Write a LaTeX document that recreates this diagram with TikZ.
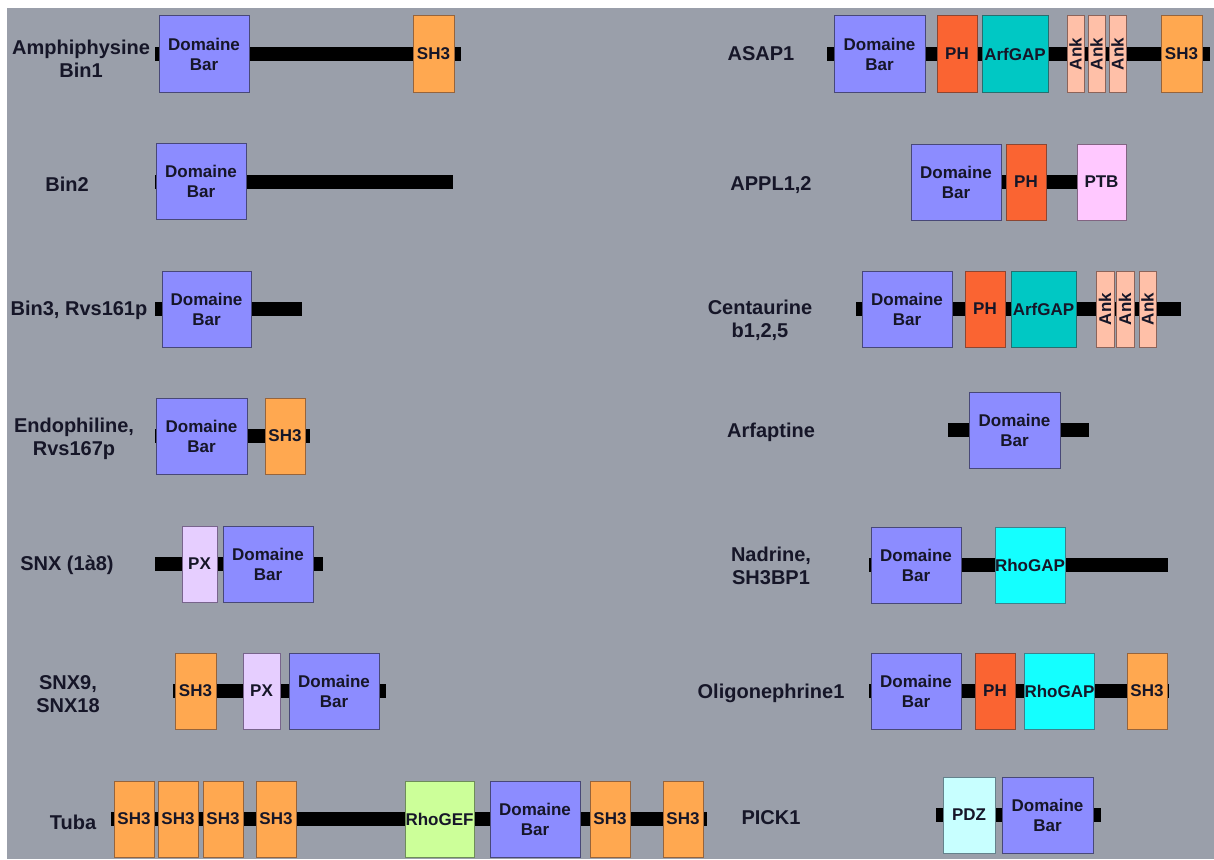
\documentclass[tikz,border=0pt]{standalone}
\usepackage{fontspec}
\setmainfont{Liberation Sans}
\usepackage{graphicx}
\definecolor{bgc}{RGB}{154,159,170}
\definecolor{txt}{RGB}{22,22,40}
\definecolor{dbF}{RGB}{140,140,255}\definecolor{dbD}{RGB}{72,72,120}
\definecolor{shF}{RGB}{255,168,80}\definecolor{shD}{RGB}{150,100,60}
\definecolor{phF}{RGB}{250,100,50}\definecolor{phD}{RGB}{140,70,50}
\definecolor{agF}{RGB}{0,200,196}\definecolor{agD}{RGB}{40,110,110}
\definecolor{akF}{RGB}{255,192,168}\definecolor{akD}{RGB}{140,100,90}
\definecolor{ptF}{RGB}{255,200,255}\definecolor{ptD}{RGB}{130,100,130}
\definecolor{pxF}{RGB}{230,206,255}\definecolor{pxD}{RGB}{120,100,140}
\definecolor{geF}{RGB}{204,255,153}\definecolor{geD}{RGB}{110,140,90}
\definecolor{gaF}{RGB}{20,255,255}\definecolor{gaD}{RGB}{60,130,140}
\definecolor{pdF}{RGB}{200,255,255}\definecolor{pdD}{RGB}{100,130,140}
\newcommand\boxfont{\fontsize{17}{20}\selectfont\bfseries}
\newcommand\labfont{\fontsize{20}{23}\selectfont\bfseries}
\newcommand\mkdom[6]{\node[dom,#5,minimum width={#3-#2}] (#1) at ({(#2+#3)/2},#4) {#6};}
\newcommand\ank{\rotatebox{90}{Ank}}
\tikzset{
  dom/.style={draw, line width=1pt, inner sep=0pt, minimum height=76, font=\boxfont, text=txt, align=center},
  dbar/.style={fill=dbF, draw=dbD},
  sh/.style={fill=shF, draw=shD},
  ph/.style={fill=phF, draw=phD},
  arf/.style={fill=agF, draw=agD},
  ankb/.style={fill=akF, draw=akD},
  ptb/.style={fill=ptF, draw=ptD},
  pxb/.style={fill=pxF, draw=pxD},
  gef/.style={fill=geF, draw=geD},
  gap/.style={fill=gaF, draw=gaD},
  pdz/.style={fill=pdF, draw=pdD},
  backbone/.style={line width=14pt, black},
  lab/.style={font=\labfont, text=txt, align=center, inner sep=0pt}
}
\begin{document}
\begin{tikzpicture}[x=1pt,y=-1pt]
\useasboundingbox (0,0) rectangle (1214,859);
\fill[bgc] (7,8) rectangle (1214,859);

% ---------------- left column ----------------
% Row 1
\node[lab] (L1) at (81,59) {Amphiphysine\\Bin1};
\coordinate (b1s) at (155,54); \coordinate (b1e) at (461,54);
\draw[backbone] (b1s) -- (b1e);
\mkdom{a1}{159}{249}{54}{dbar}{Domaine\\Bar}
\mkdom{a2}{413}{454}{54}{sh}{SH3}

% Row 2
\node[lab] (L2) at (67,184) {Bin2};
\coordinate (b2s) at (155,181.5); \coordinate (b2e) at (453,181.5);
\draw[backbone] (b2s) -- (b2e);
\mkdom{c1}{156}{246}{181.5}{dbar}{Domaine\\Bar}

% Row 3
\node[lab] (L3) at (79,310) {Bin3, Rvs161p};
\coordinate (b3s) at (155,309); \coordinate (b3e) at (302,309);
\draw[backbone] (b3s) -- (b3e);
\mkdom{d1}{162}{251}{309}{dbar}{Domaine\\Bar}

% Row 4
\node[lab] (L4) at (74,439) {Endophiline,\\Rvs167p};
\coordinate (b4s) at (155,436); \coordinate (b4e) at (310,436);
\draw[backbone] (b4s) -- (b4e);
\mkdom{e1}{156}{247}{436}{dbar}{Domaine\\Bar}
\mkdom{e2}{265}{305}{436}{sh}{SH3}

% Row 5
\node[lab] (L5) at (67,565) {SNX (1à8)};
\coordinate (b5s) at (155,564); \coordinate (b5e) at (323,564);
\draw[backbone] (b5s) -- (b5e);
\mkdom{f1}{182}{217}{564}{pxb}{PX}
\mkdom{f2}{223}{313}{564}{dbar}{Domaine\\Bar}

% Row 6
\node[lab] (L6) at (68,694) {SNX9,\\SNX18};
\coordinate (b6s) at (173,691); \coordinate (b6e) at (386,691);
\draw[backbone] (b6s) -- (b6e);
\mkdom{g1}{175}{216}{691}{sh}{SH3}
\mkdom{g2}{243}{280}{691}{pxb}{PX}
\mkdom{g3}{289}{379}{691}{dbar}{Domaine\\Bar}

% Row 7
\node[lab] (L7) at (73,822) {Tuba};
\coordinate (b7s) at (111,819); \coordinate (b7e) at (707,819);
\draw[backbone] (b7s) -- (b7e);
\mkdom{h1}{114}{154}{819}{sh}{SH3}
\mkdom{h2}{158}{198}{819}{sh}{SH3}
\mkdom{h3}{203}{243}{819}{sh}{SH3}
\mkdom{h4}{256}{296}{819}{sh}{SH3}
\mkdom{h5}{405}{474}{819}{gef}{RhoGEF}
\mkdom{h6}{490}{580}{819}{dbar}{Domaine\\Bar}
\mkdom{h7}{590}{630}{819}{sh}{SH3}
\mkdom{h8}{663}{703}{819}{sh}{SH3}

% ---------------- right column ----------------
% Row 1
\node[lab] (R1) at (761,54) {ASAP1};
\coordinate (r1s) at (827,54); \coordinate (r1e) at (1210,54);
\draw[backbone] (r1s) -- (r1e);
\mkdom{i1}{834}{925}{54}{dbar}{Domaine\\Bar}
\mkdom{i2}{937}{977}{54}{ph}{PH}
\mkdom{i3}{982}{1048}{54}{arf}{ArfGAP}
\mkdom{i4}{1067}{1084}{54}{ankb}{\ank}
\mkdom{i5}{1088}{1105}{54}{ankb}{\ank}
\mkdom{i6}{1109}{1126}{54}{ankb}{\ank}
\mkdom{i7}{1161}{1202}{54}{sh}{SH3}

% Row 2
\node[lab] (R2) at (771,185) {APPL1,2};
\coordinate (r2s) at (1000,182); \coordinate (r2e) at (1077,182);
\draw[backbone] (r2s) -- (r2e);
\mkdom{j1}{911}{1001}{182}{dbar}{Domaine\\Bar}
\mkdom{j2}{1006}{1046}{182}{ph}{PH}
\mkdom{j3}{1077}{1126}{182}{ptb}{PTB}

% Row 3
\node[lab] (R3) at (760,320) {Centaurine\\b1,2,5};
\coordinate (r3s) at (856,309); \coordinate (r3e) at (1181,309);
\draw[backbone] (r3s) -- (r3e);
\mkdom{k1}{862}{952}{309}{dbar}{Domaine\\Bar}
\mkdom{k2}{965}{1005}{309}{ph}{PH}
\mkdom{k3}{1011}{1076}{309}{arf}{ArfGAP}
\mkdom{k4}{1096}{1114}{309}{ankb}{\ank}
\mkdom{k5}{1116}{1134}{309}{ankb}{\ank}
\mkdom{k6}{1139}{1156}{309}{ankb}{\ank}

% Row 4
\node[lab] (R4) at (771,432) {Arfaptine};
\coordinate (r4s) at (948,430); \coordinate (r4e) at (1089,430);
\draw[backbone] (r4s) -- (r4e);
\mkdom{m1}{969}{1060}{430}{dbar}{Domaine\\Bar}

% Row 5
\node[lab] (R5) at (771,566) {Nadrine,\\SH3BP1};
\coordinate (r5s) at (869,565); \coordinate (r5e) at (1168,565);
\draw[backbone] (r5s) -- (r5e);
\mkdom{n1}{871}{961}{565}{dbar}{Domaine\\Bar}
\mkdom{n2}{995}{1065}{565}{gap}{RhoGAP}

% Row 6
\node[lab] (R6) at (771,693) {Oligonephrine1};
\coordinate (r6s) at (869,691); \coordinate (r6e) at (1169,691);
\draw[backbone] (r6s) -- (r6e);
\mkdom{o1}{871}{961}{691}{dbar}{Domaine\\Bar}
\mkdom{o2}{975}{1015}{691}{ph}{PH}
\mkdom{o3}{1025}{1094}{691}{gap}{RhoGAP}
\mkdom{o4}{1127}{1167}{691}{sh}{SH3}

% Row 7
\node[lab] (R7) at (771,818) {PICK1};
\coordinate (r7s) at (936,815); \coordinate (r7e) at (1101,815);
\draw[backbone] (r7s) -- (r7e);
\mkdom{p1}{943}{995}{815}{pdz}{PDZ}
\mkdom{p2}{1002}{1093}{815}{dbar}{Domaine\\Bar}
\end{tikzpicture}
\end{document}
